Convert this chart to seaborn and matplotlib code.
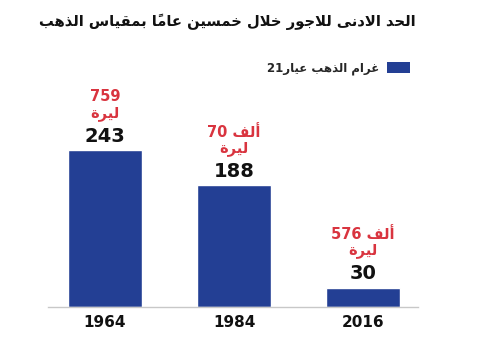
import matplotlib
matplotlib.use("Agg")
import matplotlib.pyplot as plt
from matplotlib.patches import Patch
import seaborn as sns
import pandas as pd

# data
years = ["1964", "1984", "2016"]
gold_grams = [243, 188, 30]
wage_amounts = ["759", "70", "576"]
wage_units = ["", "ألف", "ألف"]

title_text = "الحد الادنى للاجور خلال خمسين عاماً بمقياس الذهب"
legend_text = "غرام الذهب عيار21"
lira_text = "ليرة"

BLUE = "#233f94"
RED = "#d9343f"

# --- tiny arabic shaper (matplotlib has no complex text layout) ---
FORMS = {
    "ا": ("\uFE8D", "\uFE8E", None, None),
    "أ": ("\uFE83", "\uFE84", None, None),
    "إ": ("\uFE87", "\uFE88", None, None),
    "آ": ("\uFE81", "\uFE82", None, None),
    "ب": ("\uFE8F", "\uFE90", "\uFE91", "\uFE92"),
    "ة": ("\uFE93", "\uFE94", None, None),
    "ت": ("\uFE95", "\uFE96", "\uFE97", "\uFE98"),
    "ث": ("\uFE99", "\uFE9A", "\uFE9B", "\uFE9C"),
    "ج": ("\uFE9D", "\uFE9E", "\uFE9F", "\uFEA0"),
    "ح": ("\uFEA1", "\uFEA2", "\uFEA3", "\uFEA4"),
    "خ": ("\uFEA5", "\uFEA6", "\uFEA7", "\uFEA8"),
    "د": ("\uFEA9", "\uFEAA", None, None),
    "ذ": ("\uFEAB", "\uFEAC", None, None),
    "ر": ("\uFEAD", "\uFEAE", None, None),
    "ز": ("\uFEAF", "\uFEB0", None, None),
    "س": ("\uFEB1", "\uFEB2", "\uFEB3", "\uFEB4"),
    "ش": ("\uFEB5", "\uFEB6", "\uFEB7", "\uFEB8"),
    "ص": ("\uFEB9", "\uFEBA", "\uFEBB", "\uFEBC"),
    "ض": ("\uFEBD", "\uFEBE", "\uFEBF", "\uFEC0"),
    "ط": ("\uFEC1", "\uFEC2", "\uFEC3", "\uFEC4"),
    "ظ": ("\uFEC5", "\uFEC6", "\uFEC7", "\uFEC8"),
    "ع": ("\uFEC9", "\uFECA", "\uFECB", "\uFECC"),
    "غ": ("\uFECD", "\uFECE", "\uFECF", "\uFED0"),
    "ف": ("\uFED1", "\uFED2", "\uFED3", "\uFED4"),
    "ق": ("\uFED5", "\uFED6", "\uFED7", "\uFED8"),
    "ك": ("\uFED9", "\uFEDA", "\uFEDB", "\uFEDC"),
    "ل": ("\uFEDD", "\uFEDE", "\uFEDF", "\uFEE0"),
    "م": ("\uFEE1", "\uFEE2", "\uFEE3", "\uFEE4"),
    "ن": ("\uFEE5", "\uFEE6", "\uFEE7", "\uFEE8"),
    "ه": ("\uFEE9", "\uFEEA", "\uFEEB", "\uFEEC"),
    "و": ("\uFEED", "\uFEEE", None, None),
    "ى": ("\uFEEF", "\uFEF0", None, None),
    "ي": ("\uFEF1", "\uFEF2", "\uFEF3", "\uFEF4"),
    "ئ": ("\uFE89", "\uFE8A", "\uFE8B", "\uFE8C"),
}
LAMALEF = {"آ": ("\uFEF5", "\uFEF6"), "أ": ("\uFEF7", "\uFEF8"),
           "إ": ("\uFEF9", "\uFEFA"), "ا": ("\uFEFB", "\uFEFC")}
MARKS = set(chr(c) for c in range(0x064B, 0x0653))


def ar(text):
    units = []
    for c in text:
        if c in MARKS and units:
            units[-1][1] += c
        else:
            units.append([c, ""])
    merged = []
    i = 0
    while i < len(units):
        b, m = units[i]
        if b == "ل" and i + 1 < len(units) and units[i + 1][0] in LAMALEF:
            merged.append(["LA" + units[i + 1][0], m + units[i + 1][1]])
            i += 2
        else:
            merged.append([b, m])
            i += 1

    def joins(b):
        return b is not None and (b in FORMS or b.startswith("LA"))

    def dual(b):
        return b is not None and b in FORMS and FORMS[b][2] is not None

    clusters = []
    for i, (b, m) in enumerate(merged):
        prev = merged[i - 1][0] if i > 0 else None
        nxt = merged[i + 1][0] if i + 1 < len(merged) else None
        cp = dual(prev) and joins(b)
        cn = dual(b) and joins(nxt)
        if b.startswith("LA"):
            g = LAMALEF[b[2]][1 if cp else 0]
        elif b in FORMS:
            f = FORMS[b]
            g = f[3] if (cp and cn) else f[1] if cp else f[2] if cn else f[0]
        else:
            g = b
        clusters.append(g + m)
    # right-to-left display, digit runs stay left-to-right
    clusters = clusters[::-1]
    out, run = [], []
    for c in clusters:
        if c.isdigit():
            run.append(c)
        else:
            out.extend(run[::-1])
            run = []
            out.append(c)
    out.extend(run[::-1])
    return "".join(out)


sns.set_style("white")
plt.rcParams["font.family"] = ["DejaVu Sans"]

df = pd.DataFrame({"year": years, "grams": gold_grams})

fig = plt.figure(figsize=(4.8, 3.6), dpi=100)
ax = fig.add_axes([48 / 480, 53 / 360, 370 / 480, 260 / 360])

sns.barplot(data=df, x="year", y="grams", order=years, color=BLUE,
            width=0.58, saturation=1, ax=ax)

ax.set_xlim(-0.442, 2.426)
ax.set_ylim(0, 402)
ax.set_xlabel("")
ax.set_ylabel("")
ax.set_yticks([])
sns.despine(ax=ax, left=True, top=True, right=True)
ax.spines["bottom"].set_color("#c8c8c8")
ax.spines["bottom"].set_linewidth(1.0)
ax.tick_params(axis="x", length=0, pad=6)
for lab in ax.get_xticklabels():
    lab.set_fontweight("bold")
    lab.set_fontsize(11)
    lab.set_color("#111111")

for i, (v, amt, unit) in enumerate(zip(gold_grams, wage_amounts, wage_units)):
    ax.annotate(str(v), (i, v), xytext=(0, 3), textcoords="offset points",
                ha="center", va="bottom", fontsize=14, fontweight="bold",
                color="#111111")
    first = amt if not unit else f"{amt} {ar(unit)}"
    ax.annotate(first + "\n" + ar(lira_text), (i, v), xytext=(0, 21),
                textcoords="offset points", ha="center", va="bottom",
                fontsize=10.5, fontweight="bold", color=RED,
                linespacing=1.05, multialignment="center")

fig.text(0.473, 0.939, ar(title_text), ha="center", va="center",
         fontsize=10.6, fontweight="bold", color="#111111")

handle = Patch(facecolor=BLUE, edgecolor="none")
fig.legend([handle], [ar(legend_text)], loc="center right",
           bbox_to_anchor=(0.877, 0.81), frameon=False, markerfirst=False,
           handlelength=2.0, handleheight=1.1, handletextpad=0.6,
           prop={"weight": "bold", "size": 8.5})

fig.savefig("out.png", dpi=100, facecolor="white")
